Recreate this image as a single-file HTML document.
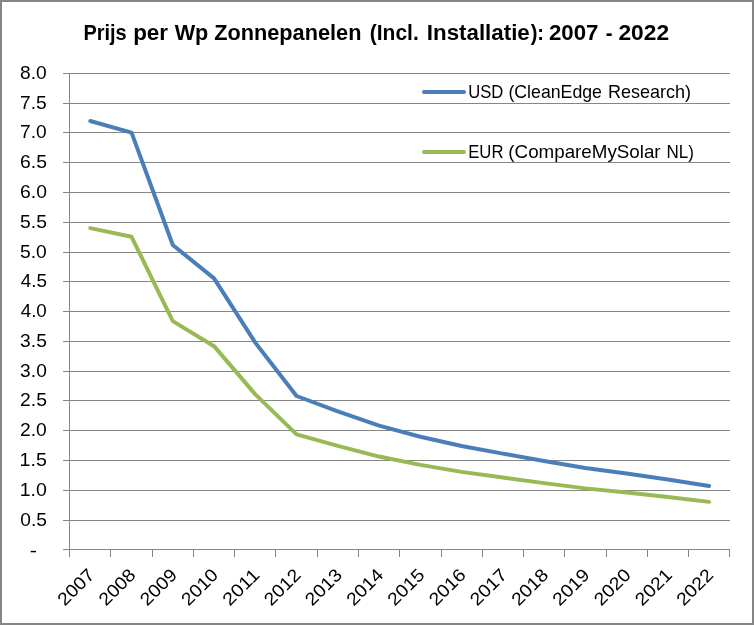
<!DOCTYPE html>
<html lang="nl">
<head>
<meta charset="utf-8">
<title>Prijs per Wp Zonnepanelen</title>
<style>
html,body{margin:0;padding:0;background:#fff;}
body{width:754px;height:625px;overflow:hidden;}
svg{display:block;}
text{font-family:"Liberation Sans",sans-serif;fill:#000;}
.t{font-weight:bold;font-size:22.8px;}
.x{font-size:18px;text-anchor:end;}
.l{font-size:17.8px;}
.y{font-size:18.5px;}
</style>
</head>
<body>
<svg width="754" height="625" viewBox="0 0 754 625">
<rect x="0" y="0" width="754" height="625" fill="#ffffff"/>
<rect x="1" y="1" width="752" height="623" fill="none" stroke="#868686" stroke-width="2"/>
<g fill="#868686" shape-rendering="crispEdges">
<rect x="63" y="73" width="667" height="1"/>
<rect x="63" y="103" width="667" height="1"/>
<rect x="63" y="132" width="667" height="1"/>
<rect x="63" y="162" width="667" height="1"/>
<rect x="63" y="192" width="667" height="1"/>
<rect x="63" y="222" width="667" height="1"/>
<rect x="63" y="252" width="667" height="1"/>
<rect x="63" y="281" width="667" height="1"/>
<rect x="63" y="311" width="667" height="1"/>
<rect x="63" y="341" width="667" height="1"/>
<rect x="63" y="371" width="667" height="1"/>
<rect x="63" y="400" width="667" height="1"/>
<rect x="63" y="430" width="667" height="1"/>
<rect x="63" y="460" width="667" height="1"/>
<rect x="63" y="490" width="667" height="1"/>
<rect x="63" y="520" width="667" height="1"/>
<rect x="63" y="549" width="667" height="1"/>
<rect x="69" y="73" width="1" height="484"/>
<rect x="110" y="549" width="1" height="8"/>
<rect x="152" y="549" width="1" height="8"/>
<rect x="193" y="549" width="1" height="8"/>
<rect x="234" y="549" width="1" height="8"/>
<rect x="275" y="549" width="1" height="8"/>
<rect x="317" y="549" width="1" height="8"/>
<rect x="358" y="549" width="1" height="8"/>
<rect x="399" y="549" width="1" height="8"/>
<rect x="441" y="549" width="1" height="8"/>
<rect x="482" y="549" width="1" height="8"/>
<rect x="523" y="549" width="1" height="8"/>
<rect x="564" y="549" width="1" height="8"/>
<rect x="606" y="549" width="1" height="8"/>
<rect x="647" y="549" width="1" height="8"/>
<rect x="688" y="549" width="1" height="8"/>
<rect x="729" y="549" width="1" height="8"/>
</g>
<polyline points="90.3,228.12 131.55,236.83 172.8,321.12 214.05,346.17 255.3,394.33 296.55,434.38 337.8,445.92 379.05,456.58 420.3,464.9 461.55,471.88 502.8,477.58 544.05,483.12 585.3,488.38 626.55,492.58 667.8,497.08 709.05,501.88" fill="none" stroke="#98B954" stroke-width="4" stroke-linecap="round" stroke-linejoin="round"/>
<polyline points="90.3,121 131.55,132.6 172.8,245 214.05,278.4 255.3,342.6 296.55,396 337.8,411.4 379.05,425.6 420.3,436.7 461.55,446 502.8,453.6 544.05,461 585.3,468 626.55,473.6 667.8,479.6 709.05,486" fill="none" stroke="#4A7EBB" stroke-width="4" stroke-linecap="round" stroke-linejoin="round"/>
<text class="t" y="39.6"><tspan x="83.46" textLength="43.24" lengthAdjust="spacingAndGlyphs">Prijs</tspan> <tspan x="133.15" textLength="34.85" lengthAdjust="spacingAndGlyphs">per</tspan> <tspan x="174.66" textLength="33.7" lengthAdjust="spacingAndGlyphs">Wp</tspan> <tspan x="214.23" textLength="147.21" lengthAdjust="spacingAndGlyphs">Zonnepanelen</tspan> <tspan x="369.76" textLength="49.01" lengthAdjust="spacingAndGlyphs">(Incl.</tspan> <tspan x="426.87" textLength="102.9" lengthAdjust="spacingAndGlyphs">Installatie</tspan><tspan x="530.63" textLength="13.38" lengthAdjust="spacingAndGlyphs">):</tspan> <tspan x="549.02" textLength="49.44" lengthAdjust="spacingAndGlyphs">2007</tspan> <tspan x="605.64" textLength="6.8" lengthAdjust="spacingAndGlyphs">-</tspan> <tspan x="618.45" textLength="50.59" lengthAdjust="spacingAndGlyphs">2022</tspan></text>
<text class="l" y="97.6"><tspan x="468.25" textLength="35.09" lengthAdjust="spacingAndGlyphs">USD</tspan> <tspan x="508.42" textLength="93.57" lengthAdjust="spacingAndGlyphs">(CleanEdge</tspan> <tspan x="607.93" textLength="83.08" lengthAdjust="spacingAndGlyphs">Research)</tspan></text>
<text class="l" y="157.6"><tspan x="468.2" textLength="35.27" lengthAdjust="spacingAndGlyphs">EUR</tspan> <tspan x="508.37" textLength="152.25" lengthAdjust="spacingAndGlyphs">(CompareMySolar</tspan> <tspan x="666.59" textLength="27.44" lengthAdjust="spacingAndGlyphs">NL)</tspan></text>
<text class="y" y="79.1"><tspan x="20.06" textLength="26.71" lengthAdjust="spacingAndGlyphs">8.0</tspan></text>
<text class="y" y="109.1"><tspan x="20.09" textLength="26.74" lengthAdjust="spacingAndGlyphs">7.5</tspan></text>
<text class="y" y="138.1"><tspan x="20.1" textLength="26.68" lengthAdjust="spacingAndGlyphs">7.0</tspan></text>
<text class="y" y="168.1"><tspan x="19.98" textLength="26.97" lengthAdjust="spacingAndGlyphs">6.5</tspan></text>
<text class="y" y="198.1"><tspan x="20.0" textLength="26.91" lengthAdjust="spacingAndGlyphs">6.0</tspan></text>
<text class="y" y="228.1"><tspan x="20.06" textLength="26.81" lengthAdjust="spacingAndGlyphs">5.5</tspan></text>
<text class="y" y="258.1"><tspan x="20.08" textLength="26.74" lengthAdjust="spacingAndGlyphs">5.0</tspan></text>
<text class="y" y="287.1"><tspan x="20.66" textLength="26.25" lengthAdjust="spacingAndGlyphs">4.5</tspan></text>
<text class="y" y="317.1"><tspan x="20.66" textLength="26.18" lengthAdjust="spacingAndGlyphs">4.0</tspan></text>
<text class="y" y="347.1"><tspan x="20.13" textLength="26.72" lengthAdjust="spacingAndGlyphs">3.5</tspan></text>
<text class="y" y="377.1"><tspan x="20.14" textLength="26.68" lengthAdjust="spacingAndGlyphs">3.0</tspan></text>
<text class="y" y="406.1"><tspan x="20.03" textLength="26.87" lengthAdjust="spacingAndGlyphs">2.5</tspan></text>
<text class="y" y="436.1"><tspan x="20.05" textLength="26.77" lengthAdjust="spacingAndGlyphs">2.0</tspan></text>
<text class="y" y="466.1"><tspan x="19.61" textLength="27.26" lengthAdjust="spacingAndGlyphs">1.5</tspan></text>
<text class="y" y="496.1"><tspan x="19.65" textLength="27.07" lengthAdjust="spacingAndGlyphs">1.0</tspan></text>
<text class="y" y="526.1"><tspan x="20.27" textLength="26.6" lengthAdjust="spacingAndGlyphs">0.5</tspan></text>
<text class="y" y="556.8"><tspan x="29.8" textLength="7.27" lengthAdjust="spacingAndGlyphs">-</tspan></text>
<g class="x">
<text x="95.6" y="576" transform="rotate(-45 95.6 576)" textLength="43.5" lengthAdjust="spacingAndGlyphs">2007</text>
<text x="136.8" y="576" transform="rotate(-45 136.8 576)" textLength="43.5" lengthAdjust="spacingAndGlyphs">2008</text>
<text x="178.1" y="576" transform="rotate(-45 178.1 576)" textLength="43.5" lengthAdjust="spacingAndGlyphs">2009</text>
<text x="219.3" y="576" transform="rotate(-45 219.3 576)" textLength="43.5" lengthAdjust="spacingAndGlyphs">2010</text>
<text x="260.6" y="576" transform="rotate(-45 260.6 576)" textLength="43.5" lengthAdjust="spacingAndGlyphs">2011</text>
<text x="301.9" y="576" transform="rotate(-45 301.9 576)" textLength="43.5" lengthAdjust="spacingAndGlyphs">2012</text>
<text x="343.1" y="576" transform="rotate(-45 343.1 576)" textLength="43.5" lengthAdjust="spacingAndGlyphs">2013</text>
<text x="384.4" y="576" transform="rotate(-45 384.4 576)" textLength="43.5" lengthAdjust="spacingAndGlyphs">2014</text>
<text x="425.6" y="576" transform="rotate(-45 425.6 576)" textLength="43.5" lengthAdjust="spacingAndGlyphs">2015</text>
<text x="466.9" y="576" transform="rotate(-45 466.9 576)" textLength="43.5" lengthAdjust="spacingAndGlyphs">2016</text>
<text x="508.1" y="576" transform="rotate(-45 508.1 576)" textLength="43.5" lengthAdjust="spacingAndGlyphs">2017</text>
<text x="549.4" y="576" transform="rotate(-45 549.4 576)" textLength="43.5" lengthAdjust="spacingAndGlyphs">2018</text>
<text x="590.6" y="576" transform="rotate(-45 590.6 576)" textLength="43.5" lengthAdjust="spacingAndGlyphs">2019</text>
<text x="631.9" y="576" transform="rotate(-45 631.9 576)" textLength="43.5" lengthAdjust="spacingAndGlyphs">2020</text>
<text x="673.1" y="576" transform="rotate(-45 673.1 576)" textLength="43.5" lengthAdjust="spacingAndGlyphs">2021</text>
<text x="714.4" y="576" transform="rotate(-45 714.4 576)" textLength="43.5" lengthAdjust="spacingAndGlyphs">2022</text>
</g>
<line x1="424" y1="92" x2="464" y2="92" stroke="#4A7EBB" stroke-width="4" stroke-linecap="round"/>
<line x1="424" y1="152" x2="464" y2="152" stroke="#98B954" stroke-width="4" stroke-linecap="round"/>
</svg>
</body>
</html>
